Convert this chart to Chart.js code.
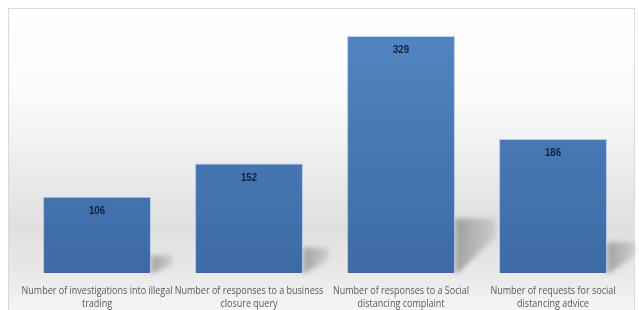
<!DOCTYPE html>
<html><head><meta charset="utf-8">
<script src="https://cdn.jsdelivr.net/npm/chart.js@4"></script>
<style>html,body{margin:0;padding:0;background:#fff;}#wrap{width:639px;height:310px;position:relative;}</style>
</head><body><div id="wrap"><canvas id="c" width="639" height="310"></canvas></div>
<script>
const categories = [
  ["Number of investigations into illegal", "trading"],
  ["Number of responses to a business", "closure query"],
  ["Number of responses to a Social", "distancing complaint"],
  ["Number of requests for social", "distancing advice"]
];
const values = [106, 152, 329, 186];

const LABEL_FONT = '11px "Open Sans", Lato, sans-serif';
const VALUE_FONT = 'bold 11px "Liberation Sans", Arial, sans-serif';

const bgPlugin = {
  id: 'bg',
  beforeDraw(chart) {
    const ctx = chart.ctx;
    ctx.save();
    ctx.fillStyle = '#fff';
    ctx.fillRect(0, 0, chart.width, chart.height);
    const g = ctx.createLinearGradient(0, 8, 0, 310);
    g.addColorStop(0, '#ffffff');
    g.addColorStop(0.3, '#fafafa');
    g.addColorStop(0.72, '#e0e0e0');
    g.addColorStop(0.85, '#e6e6e6');
    g.addColorStop(1, '#f5f5f5');
    ctx.fillStyle = g;
    ctx.fillRect(9, 9, 625, 310);
    ctx.strokeStyle = '#d9d9d9';
    ctx.lineWidth = 1;
    ctx.strokeRect(8.5, 8.5, 626, 320);
    ctx.restore();
  },
  beforeDatasetsDraw(chart) {
    const ctx = chart.ctx;
    const meta = chart.getDatasetMeta(0);
    ctx.save();
    ctx.filter = 'blur(2.5px)';
    meta.data.forEach((bar) => {
      const R = bar.x + bar.width / 2;
      const B = bar.base;
      const h = B - bar.y;
      const s = 0.23 * h;
      const dx = 12 + 0.12 * h;
      const g = ctx.createLinearGradient(R, 0, R + dx, 0);
      g.addColorStop(0, 'rgba(80,80,80,0.45)');
      g.addColorStop(1, 'rgba(80,80,80,0.15)');
      ctx.fillStyle = g;
      ctx.beginPath();
      ctx.moveTo(R, B - s);
      ctx.lineTo(R + dx, B - s);
      ctx.lineTo(R + dx, B - s + dx * 0.45);
      ctx.lineTo(R + 3, B);
      ctx.lineTo(R, B);
      ctx.closePath();
      ctx.fill();
    });
    ctx.restore();
  },
  afterDatasetsDraw(chart) {
    const ctx = chart.ctx;
    const meta = chart.getDatasetMeta(0);
    const xs = chart.scales.x;
    ctx.save();
    ctx.font = VALUE_FONT;
    ctx.fillStyle = '#14213d';
    ctx.textAlign = 'center';
    ctx.textBaseline = 'middle';
    meta.data.forEach((bar, i) => {
      ctx.save();
      ctx.translate(bar.x, bar.y + 14);
      ctx.scale(0.88, 1);
      ctx.fillText(String(values[i]), 0, 0);
      ctx.restore();
    });
    ctx.font = LABEL_FONT;
    ctx.fillStyle = '#595959';
    const ref = ctx.measureText(categories[0][0]).width;
    const k = 151 / ref;
    categories.forEach((lines, i) => {
      const cx = xs.getPixelForValue(i);
      lines.forEach((t, j) => {
        ctx.save();
        ctx.translate(cx, 291 + j * 13);
        ctx.scale(k, 1);
        ctx.fillText(t, 0, 0);
        ctx.restore();
      });
    });
    ctx.restore();
  }
};

const ctx = document.getElementById('c').getContext('2d');
const barGrad = ctx.createLinearGradient(0, 20, 0, 273);
barGrad.addColorStop(0, '#5286c2');
barGrad.addColorStop(1, '#3d6aa6');

new Chart(ctx, {
  type: 'bar',
  data: {
    labels: categories,
    datasets: [{
      data: values,
      backgroundColor: barGrad,
      borderColor: 'rgba(150,180,220,0.6)',
      borderWidth: 1,
      barPercentage: 0.71,
      categoryPercentage: 1.0
    }]
  },
  options: {
    responsive: false,
    animation: false,
    devicePixelRatio: 1,
    layout: { padding: { left: 21, right: 10, top: 21, bottom: 0 } },
    plugins: { legend: { display: false }, tooltip: { enabled: false } },
    scales: {
      y: { display: false, min: 0, max: 350 },
      x: {
        grid: { display: false, drawTicks: false },
        border: { display: false },
        afterFit(scale) { scale.height = 37; },
        ticks: { display: false }
      }
    }
  },
  plugins: [bgPlugin]
});
</script></body></html>
